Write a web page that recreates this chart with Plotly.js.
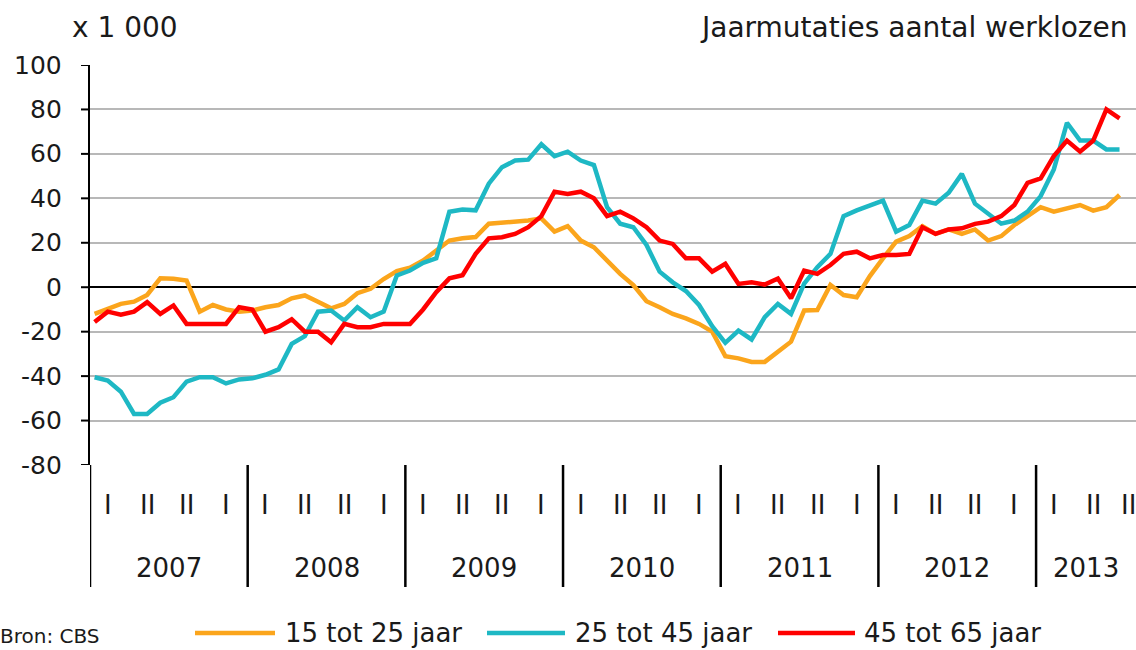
<!DOCTYPE html>
<html><head><meta charset="utf-8">
<script src="https://cdn.plot.ly/plotly-3.0.1.min.js"></script>
<style>html,body{margin:0;padding:0;background:#fff;overflow:hidden}#chart{width:1136px;height:650px}</style>
</head><body><div id="chart"></div>
<script>
// ---- data (x 1 000, jaarmutaties) ----
const years = [2007, 2008, 2009, 2010, 2011, 2012, 2013];
const quarterLabels = ['I', 'II', 'II', 'I'];
const seriesNames = ['15 tot 25 jaar', '25 tot 45 jaar', '45 tot 65 jaar'];
const age15to25 = [-12,-9.7,-7.5,-6.5,-3.5,4,3.8,3,-11,-8,
  -10,-11,-10.5,-9,-8,-5,-3.7,-6.5,-9.5,-7.5,
  -2.7,-0.7,3.7,7.3,8.8,12,16.5,21,22,22.6,
  28.6,29,29.4,30,31,25,27.5,21,18,12,
  6,1,-6.3,-9,-12,-14,-16.5,-20,-31,-32,
  -33.6,-33.6,-29,-24.5,-10.5,-10.3,1,-3.5,-4.5,5,
  13,20.5,23,27.5,24,26,24,26,21,23,
  28,32,36,34,35.5,37,34.5,36,41.5];
const age25to45 = [-40.5,-42,-47,-57,-57,-52,-49.5,-42.5,-40.5,-40.5,
  -43.3,-41.5,-41,-39.4,-37,-25.5,-22,-11,-10.5,-15,
  -9,-13.5,-11,5.3,7.5,11,13,34,35,34.6,
  46.6,54,57,57.4,64.3,59,61,57,55,36,
  28.6,27,19,7,2.2,-1.7,-8,-17.5,-25,-19.5,
  -23.5,-13.5,-7.5,-12,1.6,9,15,32,34.6,36.6,
  39,25,28,39,37.6,42.5,51,37.6,33,28.6,
  30,34,41,53,74,66,66,62,62];
const age45to65 = [-15.7,-11,-12.4,-11,-6.7,-12,-8.2,-16.5,-16.5,-16.5,
  -16.5,-9,-10,-20,-18,-14.4,-20,-20,-24.8,-16.5,
  -18,-18,-16.5,-16.5,-16.5,-10,-2.2,4,5.4,15,
  22,22.5,24,27,32,43,42,43,40,32,
  34,31,27,21,19.5,13,13,7,10.5,1.5,
  2.2,1.2,3.9,-5,7.5,6,10,15,16,13,
  14.5,14.5,15,27,24,26,26.5,28.5,29.5,32,
  37,47,49,59,66,61,66,80,76];
const yTicks = [-80, -60, -40, -20, 0, 20, 40, 60, 80, 100];

// month categories (Jan 2007 ... Jul 2013)
const months = [];
years.forEach(y => { for (let m = 1; m <= 12; m++) months.push(y + '-' + String(m).padStart(2, '0')); });
const monthLabels = months.slice(0, age15to25.length);
const xIdx = monthLabels.map((_, i) => i);

const colors = ['#FBA51C', '#1EB8C4', '#FF0000'];
const FONT = 'DejaVu Sans, sans-serif';
const TXT = '#1a1a1a';

const W = 1136, ML = 90, MR = 0, MT = 65, MB = 185;
const plotW = W - ML - MR;
const pxPerMonth = 13.14;
const x0 = -0.35, x1 = x0 + plotW / pxPerMonth;
const pxToPaper = px => (px - ML) / plotW;

const traces = [age15to25, age25to45, age45to65].map((vals, k) => ({
  type: 'scatter', mode: 'lines', x: xIdx, y: vals, name: seriesNames[k],
  text: monthLabels, hovertemplate: '%{text}: %{y}<extra>' + seriesNames[k] + '</extra>',
  line: {color: colors[k], width: 4.5}, showlegend: false
}));

const shapes = [];
const annotations = [];
// y tick marks and labels
yTicks.forEach(v => {
  shapes.push({type: 'line', xref: 'paper', yref: 'y', x0: pxToPaper(81), x1: 0, y0: v, y1: v,
    line: {color: '#000', width: 2}});
  annotations.push({xref: 'paper', yref: 'y', x: pxToPaper(64), y: v, text: String(v),
    showarrow: false, xanchor: 'right', yanchor: 'middle', font: {family: FONT, size: 25, color: TXT}});
});
// year separators, labels, quarter labels
years.forEach((yr, k) => {
  const start = x0 + 12 * k;
  shapes.push({type: 'line', xref: 'x', yref: 'paper', x0: start, x1: start, y0: 0, y1: -0.305,
    line: {color: '#000', width: 2.5}});
  const end = Math.min(start + 12, x1);
  annotations.push({xref: 'x', yref: 'paper', x: (start + end) / 2, y: -0.2575, text: String(yr),
    showarrow: false, xanchor: 'center', yanchor: 'middle', font: {family: FONT, size: 26, color: TXT}});
  quarterLabels.forEach((q, j) => {
    const pos = 12 * k + 1 + 3 * j;
    if (pos > x1 + 1) return;            // quarter not reached in the chart
    annotations.push({xref: 'x', yref: 'paper', x: Math.min(pos, x1 - 0.6), y: -0.1, text: q,
      showarrow: false, xanchor: 'center', yanchor: 'middle', font: {family: FONT, size: 26, color: TXT}});
  });
});
// titles
annotations.push({xref: 'paper', yref: 'paper', x: pxToPaper(1130), y: 1.095, text: 'Jaarmutaties aantal werklozen',
  showarrow: false, xanchor: 'right', yanchor: 'middle', font: {family: FONT, size: 28, color: TXT}});
annotations.push({xref: 'paper', yref: 'paper', x: pxToPaper(70), y: 1.095, text: 'x 1 000',
  showarrow: false, xanchor: 'left', yanchor: 'middle', font: {family: FONT, size: 28, color: TXT}});
annotations.push({xref: 'paper', yref: 'paper', x: pxToPaper(-2), y: -0.4625, text: 'Bron: CBS',
  showarrow: false, xanchor: 'left', yanchor: 'bottom', font: {family: FONT, size: 20, color: TXT}});
// custom legend
const legendY = -0.42;
const legendItems = [[195, 275, 283], [487, 565, 573], [778, 855, 862]];
legendItems.forEach((it, k) => {
  shapes.push({type: 'line', xref: 'paper', yref: 'paper', x0: pxToPaper(it[0]), x1: pxToPaper(it[1]),
    y0: legendY, y1: legendY, line: {color: colors[k], width: 4.5}});
  annotations.push({xref: 'paper', yref: 'paper', x: pxToPaper(it[2]), y: legendY, text: seriesNames[k],
    showarrow: false, xanchor: 'left', yanchor: 'middle', font: {family: FONT, size: 26, color: TXT}});
});

const layout = {
  width: W, height: 650,
  margin: {l: ML, r: MR, t: MT, b: MB, pad: 0},
  paper_bgcolor: '#fff', plot_bgcolor: '#fff',
  font: {family: FONT, size: 26, color: TXT},
  xaxis: {range: [x0, x1], showgrid: false, zeroline: false, showline: false, showticklabels: false, ticks: '', fixedrange: true},
  yaxis: {range: [-80, 100], tickvals: yTicks, showticklabels: false, ticks: '',
    showgrid: true, gridcolor: '#b8b8b8', gridwidth: 2,
    zeroline: true, zerolinecolor: '#000', zerolinewidth: 2,
    showline: true, linecolor: '#000', linewidth: 2.5, fixedrange: true},
  shapes: shapes, annotations: annotations, showlegend: false
};

Plotly.newPlot('chart', traces, layout, {displayModeBar: false, staticPlot: true});
</script></body></html>
